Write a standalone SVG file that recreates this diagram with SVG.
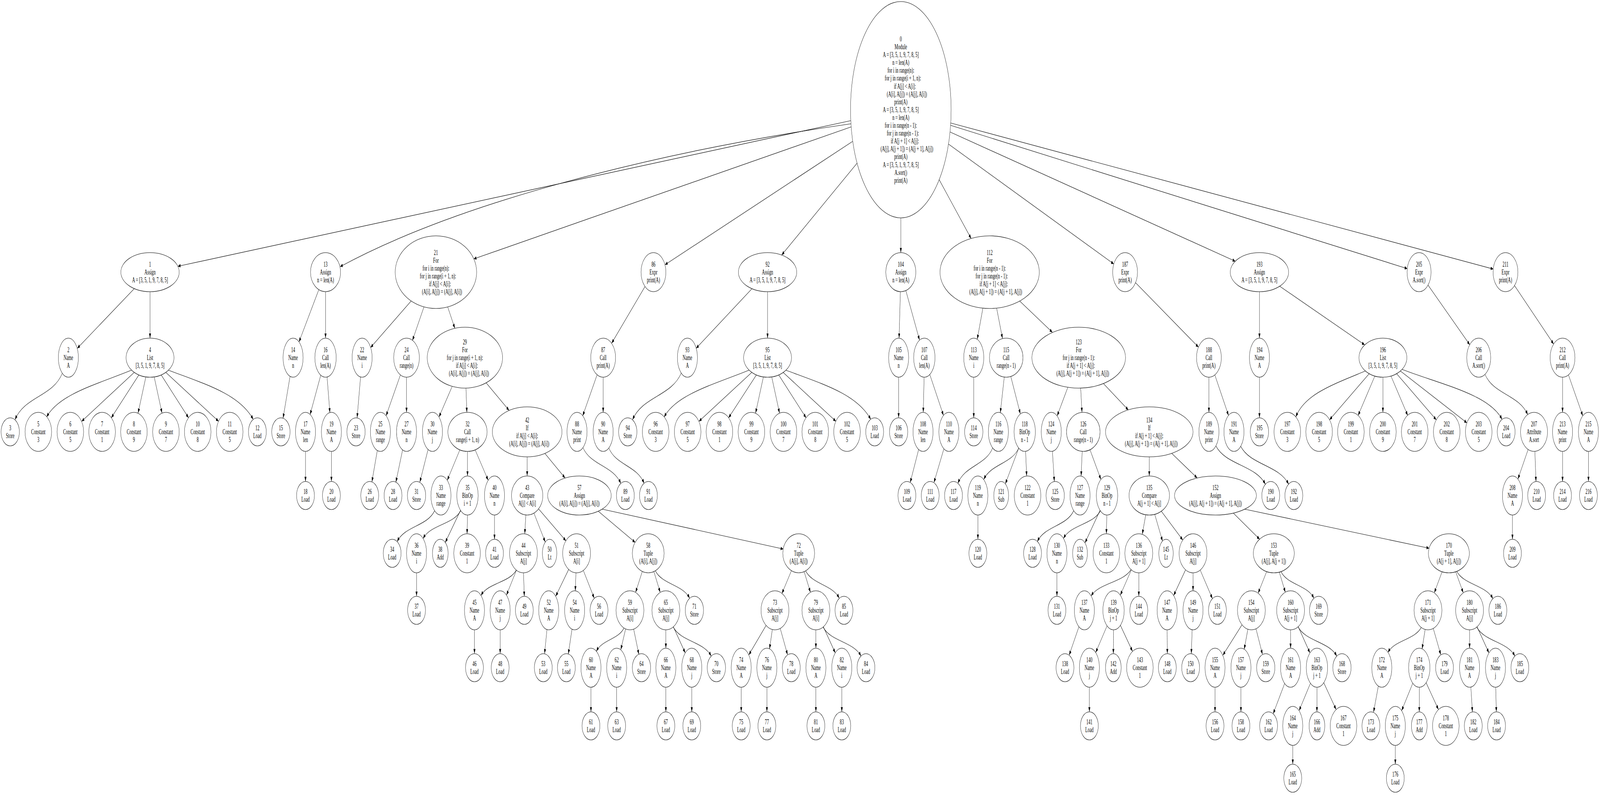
<svg xmlns="http://www.w3.org/2000/svg" width="7348" height="2036" viewBox="0 0 7348 2036" preserveAspectRatio="none" style="width:100vw;height:100vh;display:block">
<style>
.e line,.e path{stroke:#000;stroke-width:1.2;fill:none;marker-end:url(#ah)}
.nd ellipse{fill:#fff;stroke:#000;stroke-width:1.2}
.nd text{font-family:"Liberation Serif","Times New Roman",serif;font-size:18.5px;text-anchor:middle;fill:#000}
.pre{white-space:pre}
</style>
<defs>
<marker id="ah" markerUnits="userSpaceOnUse" markerWidth="13" markerHeight="10" refX="12" refY="4.5" orient="auto"><path d="M0,0L12,4.5L0,9z" fill="#000"/></marker>
</defs>
<rect width="7348" height="2036" fill="#fff"/>
<g id="edges" class="e">
<line x1="3907" y1="309" x2="817" y2="682"/>
<path d="M3908,317C3000,390 2100,520 1562,683"/>
<line x1="3909" y1="325" x2="2176" y2="663"/>
<line x1="3916" y1="362" x2="3054" y2="678"/>
<line x1="3936" y1="418" x2="3590" y2="653"/>
<line x1="4137" y1="558" x2="4137" y2="647"/>
<line x1="4313" y1="460" x2="4460" y2="611"/>
<line x1="4356" y1="369" x2="5115" y2="676"/>
<line x1="4363" y1="338" x2="5673" y2="669"/>
<line x1="4366" y1="321" x2="6463" y2="688"/>
<line x1="4366" y1="315" x2="6858" y2="689"/>
<line x1="617" y1="739" x2="355" y2="892"/>
<line x1="689" y1="747" x2="689" y2="866"/>
<path d="M286,956C243,1016 112,1015 69,1075"/>
<path d="M604,948C440,985 270,1010 214,1068"/>
<line x1="616" y1="954" x2="375" y2="1079"/>
<line x1="638" y1="960" x2="511" y2="1070"/>
<line x1="670" y1="965" x2="634" y2="1058"/>
<line x1="708" y1="965" x2="744" y2="1058"/>
<line x1="740" y1="960" x2="866" y2="1070"/>
<line x1="762" y1="954" x2="1004" y2="1079"/>
<path d="M773,948C950,985 1100,1010 1163,1074"/>
<line x1="1464" y1="742" x2="1373" y2="876"/>
<line x1="1495" y1="747" x2="1495" y2="866"/>
<line x1="1332" y1="964" x2="1300" y2="1071"/>
<line x1="1473" y1="961" x2="1424" y2="1062"/>
<line x1="1502" y1="965" x2="1515" y2="1057"/>
<line x1="1403" y1="1156" x2="1403" y2="1233"/>
<line x1="1522" y1="1156" x2="1522" y2="1233"/>
<line x1="1888" y1="771" x2="1702" y2="890"/>
<line x1="1947" y1="786" x2="1894" y2="872"/>
<line x1="2056" y1="786" x2="2089" y2="841"/>
<line x1="1656" y1="965" x2="1640" y2="1070"/>
<line x1="1839" y1="960" x2="1773" y2="1065"/>
<line x1="1867" y1="966" x2="1867" y2="1056"/>
<line x1="1733" y1="1153" x2="1708" y2="1234"/>
<line x1="1849" y1="1152" x2="1818" y2="1235"/>
<line x1="2077" y1="989" x2="2016" y2="1068"/>
<line x1="2140" y1="994" x2="2144" y2="1056"/>
<line x1="2232" y1="980" x2="2338" y2="1051"/>
<line x1="1966" y1="1151" x2="1928" y2="1235"/>
<line x1="2112" y1="1152" x2="2054" y2="1230"/>
<line x1="2147" y1="1156" x2="2147" y2="1219"/>
<line x1="2182" y1="1152" x2="2242" y2="1230"/>
<path d="M1996,1308C1962,1348 1858,1347 1824,1387"/>
<path d="M2116,1308C2081,1344 1978,1343 1943,1379"/>
<line x1="2115" y1="1307" x2="2045" y2="1389"/>
<line x1="2147" y1="1319" x2="2145" y2="1367"/>
<line x1="1913" y1="1467" x2="1913" y2="1527"/>
<line x1="2271" y1="1319" x2="2271" y2="1381"/>
<line x1="2421" y1="1170" x2="2421" y2="1219"/>
<line x1="2502" y1="1161" x2="2595" y2="1224"/>
<line x1="2415" y1="1319" x2="2410" y2="1367"/>
<line x1="2452" y1="1314" x2="2504" y2="1388"/>
<line x1="2473" y1="1303" x2="2599" y2="1385"/>
<path d="M2371,1460C2339,1493 2241,1492 2209,1525"/>
<line x1="2372" y1="1460" x2="2326" y2="1524"/>
<line x1="2404" y1="1467" x2="2408" y2="1527"/>
<line x1="2179" y1="1613" x2="2179" y2="1674"/>
<line x1="2297" y1="1613" x2="2297" y2="1674"/>
<line x1="2612" y1="1458" x2="2552" y2="1527"/>
<line x1="2645" y1="1467" x2="2642" y2="1513"/>
<line x1="2679" y1="1461" x2="2729" y2="1532"/>
<line x1="2512" y1="1612" x2="2501" y2="1674"/>
<line x1="2627" y1="1611" x2="2610" y2="1675"/>
<line x1="2747" y1="1309" x2="2917" y2="1389"/>
<line x1="2766" y1="1304" x2="3597" y2="1406"/>
<line x1="2950" y1="1463" x2="2919" y2="1517"/>
<line x1="3003" y1="1464" x2="3032" y2="1517"/>
<path d="M3010,1462C3041,1497 3136,1497 3167,1532"/>
<path d="M2866,1608C2841,1638 2764,1638 2739,1668"/>
<line x1="2873" y1="1611" x2="2851" y2="1664"/>
<line x1="2910" y1="1611" x2="2934" y2="1676"/>
<line x1="2714" y1="1760" x2="2714" y2="1823"/>
<line x1="2832" y1="1760" x2="2832" y2="1823"/>
<line x1="3058" y1="1613" x2="3058" y2="1660"/>
<line x1="3092" y1="1605" x2="3147" y2="1672"/>
<path d="M3092,1606C3127,1643 3231,1643 3266,1680"/>
<line x1="3058" y1="1760" x2="3058" y2="1823"/>
<line x1="3177" y1="1760" x2="3177" y2="1823"/>
<line x1="3635" y1="1461" x2="3591" y2="1520"/>
<line x1="3693" y1="1464" x2="3722" y2="1517"/>
<path d="M3700,1462C3731,1497 3823,1497 3854,1532"/>
<line x1="3518" y1="1602" x2="3439" y2="1677"/>
<line x1="3547" y1="1612" x2="3534" y2="1662"/>
<line x1="3583" y1="1609" x2="3617" y2="1677"/>
<line x1="3404" y1="1760" x2="3404" y2="1823"/>
<line x1="3522" y1="1760" x2="3522" y2="1823"/>
<line x1="3747" y1="1613" x2="3747" y2="1660"/>
<line x1="3781" y1="1605" x2="3836" y2="1672"/>
<path d="M3780,1606C3815,1643 3919,1643 3954,1680"/>
<line x1="3747" y1="1760" x2="3747" y2="1823"/>
<line x1="3866" y1="1760" x2="3866" y2="1823"/>
<line x1="2962" y1="734" x2="2809" y2="879"/>
<line x1="2742" y1="960" x2="2676" y2="1065"/>
<line x1="2770" y1="966" x2="2770" y2="1056"/>
<path d="M2677,1146C2712,1192 2816,1192 2851,1238"/>
<path d="M2796,1147C2828,1192 2926,1192 2958,1238"/>
<line x1="3454" y1="739" x2="3197" y2="892"/>
<line x1="3525" y1="747" x2="3525" y2="866"/>
<path d="M3129,955C3084,1015 2950,1015 2905,1075"/>
<path d="M3440,948C3276,985 3106,1010 3050,1068"/>
<line x1="3452" y1="954" x2="3210" y2="1079"/>
<line x1="3474" y1="960" x2="3346" y2="1070"/>
<line x1="3506" y1="965" x2="3470" y2="1058"/>
<line x1="3544" y1="965" x2="3580" y2="1058"/>
<line x1="3576" y1="960" x2="3702" y2="1070"/>
<line x1="3597" y1="954" x2="3839" y2="1079"/>
<path d="M3609,948C3786,985 3936,1010 3999,1074"/>
<line x1="4135" y1="747" x2="4129" y2="866"/>
<line x1="4160" y1="744" x2="4223" y2="871"/>
<line x1="4127" y1="966" x2="4127" y2="1070"/>
<line x1="4244" y1="966" x2="4240" y2="1056"/>
<line x1="4270" y1="959" x2="4333" y2="1064"/>
<line x1="4219" y1="1151" x2="4180" y2="1236"/>
<line x1="4335" y1="1149" x2="4289" y2="1236"/>
<line x1="4514" y1="789" x2="4488" y2="869"/>
<line x1="4577" y1="789" x2="4604" y2="867"/>
<line x1="4683" y1="771" x2="4833" y2="851"/>
<line x1="4472" y1="966" x2="4472" y2="1070"/>
<line x1="4612" y1="966" x2="4594" y2="1057"/>
<line x1="4642" y1="964" x2="4686" y2="1060"/>
<path d="M4559,1147C4527,1192 4431,1192 4399,1238"/>
<path d="M4679,1147C4647,1188 4550,1188 4518,1228"/>
<line x1="4679" y1="1147" x2="4617" y2="1239"/>
<line x1="4710" y1="1156" x2="4715" y2="1219"/>
<line x1="4491" y1="1319" x2="4491" y2="1381"/>
<line x1="4904" y1="992" x2="4855" y2="1065"/>
<line x1="4963" y1="994" x2="4969" y2="1056"/>
<line x1="5067" y1="982" x2="5182" y2="1050"/>
<line x1="4833" y1="1155" x2="4842" y2="1233"/>
<line x1="4970" y1="1156" x2="4965" y2="1219"/>
<line x1="5006" y1="1152" x2="5056" y2="1228"/>
<path d="M4931,1308C4898,1348 4797,1347 4764,1387"/>
<path d="M5054,1308C5020,1344 4918,1343 4884,1379"/>
<line x1="5052" y1="1307" x2="4983" y2="1390"/>
<line x1="5083" y1="1319" x2="5081" y2="1367"/>
<line x1="4854" y1="1467" x2="4854" y2="1527"/>
<line x1="5278" y1="1170" x2="5278" y2="1219"/>
<line x1="5381" y1="1161" x2="5498" y2="1224"/>
<line x1="5262" y1="1318" x2="5246" y2="1368"/>
<line x1="5303" y1="1317" x2="5339" y2="1386"/>
<line x1="5333" y1="1309" x2="5432" y2="1383"/>
<path d="M5194,1459C5157,1492 5048,1493 5011,1526"/>
<line x1="5196" y1="1459" x2="5145" y2="1524"/>
<line x1="5230" y1="1467" x2="5230" y2="1527"/>
<line x1="4955" y1="1605" x2="4910" y2="1678"/>
<line x1="5084" y1="1603" x2="5032" y2="1671"/>
<line x1="5114" y1="1613" x2="5113" y2="1674"/>
<line x1="5145" y1="1601" x2="5201" y2="1668"/>
<line x1="5003" y1="1760" x2="5003" y2="1823"/>
<line x1="5445" y1="1459" x2="5390" y2="1525"/>
<line x1="5479" y1="1467" x2="5479" y2="1513"/>
<line x1="5512" y1="1460" x2="5568" y2="1533"/>
<line x1="5360" y1="1613" x2="5361" y2="1674"/>
<line x1="5475" y1="1613" x2="5471" y2="1674"/>
<line x1="5664" y1="1314" x2="5785" y2="1381"/>
<line x1="5716" y1="1304" x2="6563" y2="1404"/>
<line x1="5817" y1="1464" x2="5778" y2="1519"/>
<line x1="5875" y1="1465" x2="5903" y2="1517"/>
<path d="M5883,1464C5913,1498 6004,1498 6034,1532"/>
<line x1="5704" y1="1600" x2="5616" y2="1678"/>
<line x1="5731" y1="1611" x2="5714" y2="1663"/>
<line x1="5768" y1="1610" x2="5798" y2="1676"/>
<line x1="5580" y1="1760" x2="5580" y2="1823"/>
<line x1="5699" y1="1760" x2="5699" y2="1823"/>
<line x1="5927" y1="1613" x2="5927" y2="1660"/>
<line x1="5962" y1="1605" x2="6016" y2="1672"/>
<path d="M5961,1605C5997,1643 6103,1643 6139,1680"/>
<line x1="5900" y1="1750" x2="5847" y2="1828"/>
<line x1="6018" y1="1750" x2="5966" y2="1820"/>
<line x1="6048" y1="1760" x2="6048" y2="1823"/>
<line x1="6079" y1="1748" x2="6136" y2="1817"/>
<line x1="5937" y1="1909" x2="5937" y2="1957"/>
<line x1="6623" y1="1464" x2="6587" y2="1518"/>
<line x1="6685" y1="1464" x2="6720" y2="1518"/>
<path d="M6690,1463C6723,1498 6823,1498 6856,1533"/>
<path d="M6527,1607C6496,1639 6405,1639 6374,1671"/>
<line x1="6545" y1="1612" x2="6531" y2="1662"/>
<line x1="6582" y1="1609" x2="6617" y2="1677"/>
<line x1="6330" y1="1757" x2="6308" y2="1824"/>
<line x1="6488" y1="1750" x2="6437" y2="1820"/>
<line x1="6518" y1="1760" x2="6518" y2="1823"/>
<line x1="6549" y1="1748" x2="6606" y2="1817"/>
<line x1="6408" y1="1909" x2="6408" y2="1957"/>
<line x1="6749" y1="1613" x2="6749" y2="1660"/>
<line x1="6783" y1="1605" x2="6838" y2="1672"/>
<path d="M6782,1606C6817,1643 6922,1643 6957,1680"/>
<line x1="6755" y1="1760" x2="6762" y2="1823"/>
<line x1="6869" y1="1760" x2="6872" y2="1823"/>
<line x1="5215" y1="724" x2="5504" y2="889"/>
<line x1="5552" y1="966" x2="5552" y2="1056"/>
<line x1="5579" y1="960" x2="5642" y2="1064"/>
<path d="M5584,1142C5629,1191 5766,1191 5811,1240"/>
<path d="M5698,1143C5742,1191 5874,1191 5918,1240"/>
<line x1="5784" y1="747" x2="5784" y2="866"/>
<line x1="5877" y1="733" x2="6267" y2="883"/>
<line x1="5784" y1="966" x2="5784" y2="1070"/>
<path d="M6271,950C6120,985 5990,1010 5951,1068"/>
<line x1="6288" y1="957" x2="6106" y2="1075"/>
<line x1="6314" y1="963" x2="6237" y2="1064"/>
<line x1="6351" y1="966" x2="6351" y2="1056"/>
<line x1="6388" y1="963" x2="6465" y2="1064"/>
<line x1="6414" y1="957" x2="6596" y2="1075"/>
<line x1="6431" y1="950" x2="6737" y2="1083"/>
<path d="M6439,946C6620,985 6840,1010 6898,1074"/>
<line x1="6558" y1="730" x2="6750" y2="883"/>
<path d="M6820,959C6859,1010 6977,1011 7016,1062"/>
<line x1="7018" y1="1151" x2="6971" y2="1227"/>
<line x1="7049" y1="1156" x2="7054" y2="1233"/>
<line x1="6946" y1="1319" x2="6946" y2="1381"/>
<line x1="6955" y1="731" x2="7135" y2="881"/>
<line x1="7176" y1="966" x2="7176" y2="1056"/>
<line x1="7203" y1="960" x2="7269" y2="1065"/>
<line x1="7176" y1="1156" x2="7176" y2="1233"/>
<line x1="7295" y1="1156" x2="7295" y2="1233"/>
</g>
<g class="nd">
<g id="n0"><ellipse cx="4137" cy="281" rx="231" ry="277"/><text class="pre" xml:space="preserve" y="106"><tspan x="4137">0</tspan><tspan x="4137" dy="20.1">Module</tspan><tspan x="4137" dy="20.1">A = [3, 5, 1, 9, 7, 8, 5]</tspan><tspan x="4137" dy="20.1">n = len(A)</tspan><tspan x="4137" dy="20.1">for i in range(n):</tspan><tspan x="4137" dy="20.1">    for j in range(i + 1, n):</tspan><tspan x="4137" dy="20.1">        if A[j] &lt; A[i]:</tspan><tspan x="4137" dy="20.1">            (A[i], A[j]) = (A[j], A[i])</tspan><tspan x="4137" dy="20.1">print(A)</tspan><tspan x="4137" dy="20.1">A = [3, 5, 1, 9, 7, 8, 5]</tspan><tspan x="4137" dy="20.1">n = len(A)</tspan><tspan x="4137" dy="20.1">for i in range(n - 1):</tspan><tspan x="4137" dy="20.1">    for j in range(n - 1):</tspan><tspan x="4137" dy="20.1">        if A[j + 1] &lt; A[j]:</tspan><tspan x="4137" dy="20.1">            (A[j], A[j + 1]) = (A[j + 1], A[j])</tspan><tspan x="4137" dy="20.1">print(A)</tspan><tspan x="4137" dy="20.1">A = [3, 5, 1, 9, 7, 8, 5]</tspan><tspan x="4137" dy="20.1">A.sort()</tspan><tspan x="4137" dy="20.1">print(A)</tspan></text></g>
<g id="n1"><ellipse cx="689" cy="697" rx="134" ry="50"/><text y="683"><tspan x="689">1</tspan><tspan x="689" dy="20.1">Assign</tspan><tspan x="689" dy="20.1">A = [3, 5, 1, 9, 7, 8, 5]</tspan></text></g>
<g id="n2"><ellipse cx="314" cy="916" rx="46" ry="50"/><text y="902"><tspan x="314">2</tspan><tspan x="314" dy="20.1">Name</tspan><tspan x="314" dy="20.1">A</tspan></text></g>
<g id="n3"><ellipse cx="47" cy="1106" rx="42" ry="36"/><text y="1102"><tspan x="47">3</tspan><tspan x="47" dy="20.1">Store</tspan></text></g>
<g id="n4"><ellipse cx="689" cy="916" rx="110" ry="50"/><text y="902"><tspan x="689">4</tspan><tspan x="689" dy="20.1">List</tspan><tspan x="689" dy="20.1">[3, 5, 1, 9, 7, 8, 5]</tspan></text></g>
<g id="n5"><ellipse cx="176" cy="1106" rx="61" ry="50"/><text y="1092"><tspan x="176">5</tspan><tspan x="176" dy="20.1">Constant</tspan><tspan x="176" dy="20.1">3</tspan></text></g>
<g id="n6"><ellipse cx="323" cy="1106" rx="61" ry="50"/><text y="1092"><tspan x="323">6</tspan><tspan x="323" dy="20.1">Constant</tspan><tspan x="323" dy="20.1">5</tspan></text></g>
<g id="n7"><ellipse cx="469" cy="1106" rx="61" ry="50"/><text y="1092"><tspan x="469">7</tspan><tspan x="469" dy="20.1">Constant</tspan><tspan x="469" dy="20.1">1</tspan></text></g>
<g id="n8"><ellipse cx="615" cy="1106" rx="61" ry="50"/><text y="1092"><tspan x="615">8</tspan><tspan x="615" dy="20.1">Constant</tspan><tspan x="615" dy="20.1">9</tspan></text></g>
<g id="n9"><ellipse cx="762" cy="1106" rx="61" ry="50"/><text y="1092"><tspan x="762">9</tspan><tspan x="762" dy="20.1">Constant</tspan><tspan x="762" dy="20.1">7</tspan></text></g>
<g id="n10"><ellipse cx="908" cy="1106" rx="61" ry="50"/><text y="1092"><tspan x="908">10</tspan><tspan x="908" dy="20.1">Constant</tspan><tspan x="908" dy="20.1">8</tspan></text></g>
<g id="n11"><ellipse cx="1055" cy="1106" rx="61" ry="50"/><text y="1092"><tspan x="1055">11</tspan><tspan x="1055" dy="20.1">Constant</tspan><tspan x="1055" dy="20.1">5</tspan></text></g>
<g id="n12"><ellipse cx="1182" cy="1106" rx="41" ry="36"/><text y="1102"><tspan x="1182">12</tspan><tspan x="1182" dy="20.1">Load</tspan></text></g>
<g id="n13"><ellipse cx="1495" cy="697" rx="69" ry="50"/><text y="683"><tspan x="1495">13</tspan><tspan x="1495" dy="20.1">Assign</tspan><tspan x="1495" dy="20.1">n = len(A)</tspan></text></g>
<g id="n14"><ellipse cx="1346" cy="916" rx="46" ry="50"/><text y="902"><tspan x="1346">14</tspan><tspan x="1346" dy="20.1">Name</tspan><tspan x="1346" dy="20.1">n</tspan></text></g>
<g id="n15"><ellipse cx="1290" cy="1106" rx="42" ry="36"/><text y="1102"><tspan x="1290">15</tspan><tspan x="1290" dy="20.1">Store</tspan></text></g>
<g id="n16"><ellipse cx="1495" cy="916" rx="49" ry="50"/><text y="902"><tspan x="1495">16</tspan><tspan x="1495" dy="20.1">Call</tspan><tspan x="1495" dy="20.1">len(A)</tspan></text></g>
<g id="n17"><ellipse cx="1403" cy="1106" rx="46" ry="50"/><text y="1092"><tspan x="1403">17</tspan><tspan x="1403" dy="20.1">Name</tspan><tspan x="1403" dy="20.1">len</tspan></text></g>
<g id="n18"><ellipse cx="1403" cy="1269" rx="41" ry="36"/><text y="1265"><tspan x="1403">18</tspan><tspan x="1403" dy="20.1">Load</tspan></text></g>
<g id="n19"><ellipse cx="1522" cy="1106" rx="46" ry="50"/><text y="1092"><tspan x="1522">19</tspan><tspan x="1522" dy="20.1">Name</tspan><tspan x="1522" dy="20.1">A</tspan></text></g>
<g id="n20"><ellipse cx="1522" cy="1269" rx="41" ry="36"/><text y="1265"><tspan x="1522">20</tspan><tspan x="1522" dy="20.1">Load</tspan></text></g>
<g id="n21"><ellipse cx="2002" cy="697" rx="187" ry="93"/><text class="pre" xml:space="preserve" y="653"><tspan x="2002">21</tspan><tspan x="2002" dy="20.1">For</tspan><tspan x="2002" dy="20.1">for i in range(n):</tspan><tspan x="2002" dy="20.1">    for j in range(i + 1, n):</tspan><tspan x="2002" dy="20.1">        if A[j] &lt; A[i]:</tspan><tspan x="2002" dy="20.1">            (A[i], A[j]) = (A[j], A[i])</tspan></text></g>
<g id="n22"><ellipse cx="1663" cy="916" rx="46" ry="50"/><text y="902"><tspan x="1663">22</tspan><tspan x="1663" dy="20.1">Name</tspan><tspan x="1663" dy="20.1">i</tspan></text></g>
<g id="n23"><ellipse cx="1635" cy="1106" rx="42" ry="36"/><text y="1102"><tspan x="1635">23</tspan><tspan x="1635" dy="20.1">Store</tspan></text></g>
<g id="n24"><ellipse cx="1867" cy="916" rx="59" ry="50"/><text y="902"><tspan x="1867">24</tspan><tspan x="1867" dy="20.1">Call</tspan><tspan x="1867" dy="20.1">range(n)</tspan></text></g>
<g id="n25"><ellipse cx="1747" cy="1106" rx="46" ry="50"/><text y="1092"><tspan x="1747">25</tspan><tspan x="1747" dy="20.1">Name</tspan><tspan x="1747" dy="20.1">range</tspan></text></g>
<g id="n26"><ellipse cx="1698" cy="1269" rx="41" ry="36"/><text y="1265"><tspan x="1698">26</tspan><tspan x="1698" dy="20.1">Load</tspan></text></g>
<g id="n27"><ellipse cx="1867" cy="1106" rx="46" ry="50"/><text y="1092"><tspan x="1867">27</tspan><tspan x="1867" dy="20.1">Name</tspan><tspan x="1867" dy="20.1">n</tspan></text></g>
<g id="n28"><ellipse cx="1805" cy="1269" rx="41" ry="36"/><text y="1265"><tspan x="1805">28</tspan><tspan x="1805" dy="20.1">Load</tspan></text></g>
<g id="n29"><ellipse cx="2135" cy="916" rx="173" ry="78"/><text class="pre" xml:space="preserve" y="882"><tspan x="2135">29</tspan><tspan x="2135" dy="20.1">For</tspan><tspan x="2135" dy="20.1">for j in range(i + 1, n):</tspan><tspan x="2135" dy="20.1">    if A[j] &lt; A[i]:</tspan><tspan x="2135" dy="20.1">        (A[i], A[j]) = (A[j], A[i])</tspan></text></g>
<g id="n30"><ellipse cx="1986" cy="1106" rx="46" ry="50"/><text y="1092"><tspan x="1986">30</tspan><tspan x="1986" dy="20.1">Name</tspan><tspan x="1986" dy="20.1">j</tspan></text></g>
<g id="n31"><ellipse cx="1913" cy="1269" rx="42" ry="36"/><text y="1265"><tspan x="1913">31</tspan><tspan x="1913" dy="20.1">Store</tspan></text></g>
<g id="n32"><ellipse cx="2147" cy="1106" rx="90" ry="50"/><text y="1092"><tspan x="2147">32</tspan><tspan x="2147" dy="20.1">Call</tspan><tspan x="2147" dy="20.1">range(i + 1, n)</tspan></text></g>
<g id="n33"><ellipse cx="2025" cy="1269" rx="46" ry="50"/><text y="1255"><tspan x="2025">33</tspan><tspan x="2025" dy="20.1">Name</tspan><tspan x="2025" dy="20.1">range</tspan></text></g>
<g id="n34"><ellipse cx="1801" cy="1417" rx="41" ry="36"/><text y="1413"><tspan x="1801">34</tspan><tspan x="1801" dy="20.1">Load</tspan></text></g>
<g id="n35"><ellipse cx="2147" cy="1269" rx="49" ry="50"/><text y="1255"><tspan x="2147">35</tspan><tspan x="2147" dy="20.1">BinOp</tspan><tspan x="2147" dy="20.1">i + 1</tspan></text></g>
<g id="n36"><ellipse cx="1913" cy="1417" rx="46" ry="50"/><text y="1403"><tspan x="1913">36</tspan><tspan x="1913" dy="20.1">Name</tspan><tspan x="1913" dy="20.1">i</tspan></text></g>
<g id="n37"><ellipse cx="1913" cy="1563" rx="41" ry="36"/><text y="1559"><tspan x="1913">37</tspan><tspan x="1913" dy="20.1">Load</tspan></text></g>
<g id="n38"><ellipse cx="2022" cy="1417" rx="36" ry="36"/><text y="1413"><tspan x="2022">38</tspan><tspan x="2022" dy="20.1">Add</tspan></text></g>
<g id="n39"><ellipse cx="2145" cy="1417" rx="61" ry="50"/><text y="1403"><tspan x="2145">39</tspan><tspan x="2145" dy="20.1">Constant</tspan><tspan x="2145" dy="20.1">1</tspan></text></g>
<g id="n40"><ellipse cx="2271" cy="1269" rx="46" ry="50"/><text y="1255"><tspan x="2271">40</tspan><tspan x="2271" dy="20.1">Name</tspan><tspan x="2271" dy="20.1">n</tspan></text></g>
<g id="n41"><ellipse cx="2271" cy="1417" rx="41" ry="36"/><text y="1413"><tspan x="2271">41</tspan><tspan x="2271" dy="20.1">Load</tspan></text></g>
<g id="n42"><ellipse cx="2421" cy="1106" rx="160" ry="64"/><text class="pre" xml:space="preserve" y="1082"><tspan x="2421">42</tspan><tspan x="2421" dy="20.1">If</tspan><tspan x="2421" dy="20.1">if A[j] &lt; A[i]:</tspan><tspan x="2421" dy="20.1">    (A[i], A[j]) = (A[j], A[i])</tspan></text></g>
<g id="n43"><ellipse cx="2421" cy="1269" rx="72" ry="50"/><text y="1255"><tspan x="2421">43</tspan><tspan x="2421" dy="20.1">Compare</tspan><tspan x="2421" dy="20.1">A[j] &lt; A[i]</tspan></text></g>
<g id="n44"><ellipse cx="2404" cy="1417" rx="64" ry="50"/><text y="1403"><tspan x="2404">44</tspan><tspan x="2404" dy="20.1">Subscript</tspan><tspan x="2404" dy="20.1">A[j]</tspan></text></g>
<g id="n45"><ellipse cx="2179" cy="1563" rx="46" ry="50"/><text y="1549"><tspan x="2179">45</tspan><tspan x="2179" dy="20.1">Name</tspan><tspan x="2179" dy="20.1">A</tspan></text></g>
<g id="n46"><ellipse cx="2179" cy="1710" rx="41" ry="36"/><text y="1706"><tspan x="2179">46</tspan><tspan x="2179" dy="20.1">Load</tspan></text></g>
<g id="n47"><ellipse cx="2297" cy="1563" rx="46" ry="50"/><text y="1549"><tspan x="2297">47</tspan><tspan x="2297" dy="20.1">Name</tspan><tspan x="2297" dy="20.1">j</tspan></text></g>
<g id="n48"><ellipse cx="2297" cy="1710" rx="41" ry="36"/><text y="1706"><tspan x="2297">48</tspan><tspan x="2297" dy="20.1">Load</tspan></text></g>
<g id="n49"><ellipse cx="2408" cy="1563" rx="41" ry="36"/><text y="1559"><tspan x="2408">49</tspan><tspan x="2408" dy="20.1">Load</tspan></text></g>
<g id="n50"><ellipse cx="2524" cy="1417" rx="33" ry="36"/><text y="1413"><tspan x="2524">50</tspan><tspan x="2524" dy="20.1">Lt</tspan></text></g>
<g id="n51"><ellipse cx="2648" cy="1417" rx="64" ry="50"/><text y="1403"><tspan x="2648">51</tspan><tspan x="2648" dy="20.1">Subscript</tspan><tspan x="2648" dy="20.1">A[i]</tspan></text></g>
<g id="n52"><ellipse cx="2520" cy="1563" rx="46" ry="50"/><text y="1549"><tspan x="2520">52</tspan><tspan x="2520" dy="20.1">Name</tspan><tspan x="2520" dy="20.1">A</tspan></text></g>
<g id="n53"><ellipse cx="2495" cy="1710" rx="41" ry="36"/><text y="1706"><tspan x="2495">53</tspan><tspan x="2495" dy="20.1">Load</tspan></text></g>
<g id="n54"><ellipse cx="2639" cy="1563" rx="46" ry="50"/><text y="1549"><tspan x="2639">54</tspan><tspan x="2639" dy="20.1">Name</tspan><tspan x="2639" dy="20.1">i</tspan></text></g>
<g id="n55"><ellipse cx="2601" cy="1710" rx="41" ry="36"/><text y="1706"><tspan x="2601">55</tspan><tspan x="2601" dy="20.1">Load</tspan></text></g>
<g id="n56"><ellipse cx="2751" cy="1563" rx="41" ry="36"/><text y="1559"><tspan x="2751">56</tspan><tspan x="2751" dy="20.1">Load</tspan></text></g>
<g id="n57"><ellipse cx="2661" cy="1269" rx="146" ry="50"/><text y="1255"><tspan x="2661">57</tspan><tspan x="2661" dy="20.1">Assign</tspan><tspan x="2661" dy="20.1">(A[i], A[j]) = (A[j], A[i])</tspan></text></g>
<g id="n58"><ellipse cx="2977" cy="1417" rx="73" ry="50"/><text y="1403"><tspan x="2977">58</tspan><tspan x="2977" dy="20.1">Tuple</tspan><tspan x="2977" dy="20.1">(A[i], A[j])</tspan></text></g>
<g id="n59"><ellipse cx="2893" cy="1563" rx="64" ry="50"/><text y="1549"><tspan x="2893">59</tspan><tspan x="2893" dy="20.1">Subscript</tspan><tspan x="2893" dy="20.1">A[i]</tspan></text></g>
<g id="n60"><ellipse cx="2714" cy="1710" rx="46" ry="50"/><text y="1696"><tspan x="2714">60</tspan><tspan x="2714" dy="20.1">Name</tspan><tspan x="2714" dy="20.1">A</tspan></text></g>
<g id="n61"><ellipse cx="2714" cy="1859" rx="41" ry="36"/><text y="1855"><tspan x="2714">61</tspan><tspan x="2714" dy="20.1">Load</tspan></text></g>
<g id="n62"><ellipse cx="2832" cy="1710" rx="46" ry="50"/><text y="1696"><tspan x="2832">62</tspan><tspan x="2832" dy="20.1">Name</tspan><tspan x="2832" dy="20.1">i</tspan></text></g>
<g id="n63"><ellipse cx="2832" cy="1859" rx="41" ry="36"/><text y="1855"><tspan x="2832">63</tspan><tspan x="2832" dy="20.1">Load</tspan></text></g>
<g id="n64"><ellipse cx="2946" cy="1710" rx="42" ry="36"/><text y="1706"><tspan x="2946">64</tspan><tspan x="2946" dy="20.1">Store</tspan></text></g>
<g id="n65"><ellipse cx="3058" cy="1563" rx="64" ry="50"/><text y="1549"><tspan x="3058">65</tspan><tspan x="3058" dy="20.1">Subscript</tspan><tspan x="3058" dy="20.1">A[j]</tspan></text></g>
<g id="n66"><ellipse cx="3058" cy="1710" rx="46" ry="50"/><text y="1696"><tspan x="3058">66</tspan><tspan x="3058" dy="20.1">Name</tspan><tspan x="3058" dy="20.1">A</tspan></text></g>
<g id="n67"><ellipse cx="3058" cy="1859" rx="41" ry="36"/><text y="1855"><tspan x="3058">67</tspan><tspan x="3058" dy="20.1">Load</tspan></text></g>
<g id="n68"><ellipse cx="3177" cy="1710" rx="46" ry="50"/><text y="1696"><tspan x="3177">68</tspan><tspan x="3177" dy="20.1">Name</tspan><tspan x="3177" dy="20.1">j</tspan></text></g>
<g id="n69"><ellipse cx="3177" cy="1859" rx="41" ry="36"/><text y="1855"><tspan x="3177">69</tspan><tspan x="3177" dy="20.1">Load</tspan></text></g>
<g id="n70"><ellipse cx="3290" cy="1710" rx="42" ry="36"/><text y="1706"><tspan x="3290">70</tspan><tspan x="3290" dy="20.1">Store</tspan></text></g>
<g id="n71"><ellipse cx="3189" cy="1563" rx="42" ry="36"/><text y="1559"><tspan x="3189">71</tspan><tspan x="3189" dy="20.1">Store</tspan></text></g>
<g id="n72"><ellipse cx="3668" cy="1417" rx="73" ry="50"/><text y="1403"><tspan x="3668">72</tspan><tspan x="3668" dy="20.1">Tuple</tspan><tspan x="3668" dy="20.1">(A[j], A[i])</tspan></text></g>
<g id="n73"><ellipse cx="3559" cy="1563" rx="64" ry="50"/><text y="1549"><tspan x="3559">73</tspan><tspan x="3559" dy="20.1">Subscript</tspan><tspan x="3559" dy="20.1">A[j]</tspan></text></g>
<g id="n74"><ellipse cx="3404" cy="1710" rx="46" ry="50"/><text y="1696"><tspan x="3404">74</tspan><tspan x="3404" dy="20.1">Name</tspan><tspan x="3404" dy="20.1">A</tspan></text></g>
<g id="n75"><ellipse cx="3404" cy="1859" rx="41" ry="36"/><text y="1855"><tspan x="3404">75</tspan><tspan x="3404" dy="20.1">Load</tspan></text></g>
<g id="n76"><ellipse cx="3522" cy="1710" rx="46" ry="50"/><text y="1696"><tspan x="3522">76</tspan><tspan x="3522" dy="20.1">Name</tspan><tspan x="3522" dy="20.1">j</tspan></text></g>
<g id="n77"><ellipse cx="3522" cy="1859" rx="41" ry="36"/><text y="1855"><tspan x="3522">77</tspan><tspan x="3522" dy="20.1">Load</tspan></text></g>
<g id="n78"><ellipse cx="3634" cy="1710" rx="41" ry="36"/><text y="1706"><tspan x="3634">78</tspan><tspan x="3634" dy="20.1">Load</tspan></text></g>
<g id="n79"><ellipse cx="3747" cy="1563" rx="64" ry="50"/><text y="1549"><tspan x="3747">79</tspan><tspan x="3747" dy="20.1">Subscript</tspan><tspan x="3747" dy="20.1">A[i]</tspan></text></g>
<g id="n80"><ellipse cx="3747" cy="1710" rx="46" ry="50"/><text y="1696"><tspan x="3747">80</tspan><tspan x="3747" dy="20.1">Name</tspan><tspan x="3747" dy="20.1">A</tspan></text></g>
<g id="n81"><ellipse cx="3747" cy="1859" rx="41" ry="36"/><text y="1855"><tspan x="3747">81</tspan><tspan x="3747" dy="20.1">Load</tspan></text></g>
<g id="n82"><ellipse cx="3866" cy="1710" rx="46" ry="50"/><text y="1696"><tspan x="3866">82</tspan><tspan x="3866" dy="20.1">Name</tspan><tspan x="3866" dy="20.1">i</tspan></text></g>
<g id="n83"><ellipse cx="3866" cy="1859" rx="41" ry="36"/><text y="1855"><tspan x="3866">83</tspan><tspan x="3866" dy="20.1">Load</tspan></text></g>
<g id="n84"><ellipse cx="3977" cy="1710" rx="41" ry="36"/><text y="1706"><tspan x="3977">84</tspan><tspan x="3977" dy="20.1">Load</tspan></text></g>
<g id="n85"><ellipse cx="3876" cy="1563" rx="41" ry="36"/><text y="1559"><tspan x="3876">85</tspan><tspan x="3876" dy="20.1">Load</tspan></text></g>
<g id="n86"><ellipse cx="3001" cy="697" rx="57" ry="50"/><text y="683"><tspan x="3001">86</tspan><tspan x="3001" dy="20.1">Expr</tspan><tspan x="3001" dy="20.1">print(A)</tspan></text></g>
<g id="n87"><ellipse cx="2770" cy="916" rx="57" ry="50"/><text y="902"><tspan x="2770">87</tspan><tspan x="2770" dy="20.1">Call</tspan><tspan x="2770" dy="20.1">print(A)</tspan></text></g>
<g id="n88"><ellipse cx="2650" cy="1106" rx="46" ry="50"/><text y="1092"><tspan x="2650">88</tspan><tspan x="2650" dy="20.1">Name</tspan><tspan x="2650" dy="20.1">print</tspan></text></g>
<g id="n89"><ellipse cx="2872" cy="1269" rx="41" ry="36"/><text y="1265"><tspan x="2872">89</tspan><tspan x="2872" dy="20.1">Load</tspan></text></g>
<g id="n90"><ellipse cx="2770" cy="1106" rx="46" ry="50"/><text y="1092"><tspan x="2770">90</tspan><tspan x="2770" dy="20.1">Name</tspan><tspan x="2770" dy="20.1">A</tspan></text></g>
<g id="n91"><ellipse cx="2978" cy="1269" rx="41" ry="36"/><text y="1265"><tspan x="2978">91</tspan><tspan x="2978" dy="20.1">Load</tspan></text></g>
<g id="n92"><ellipse cx="3525" cy="697" rx="134" ry="50"/><text y="683"><tspan x="3525">92</tspan><tspan x="3525" dy="20.1">Assign</tspan><tspan x="3525" dy="20.1">A = [3, 5, 1, 9, 7, 8, 5]</tspan></text></g>
<g id="n93"><ellipse cx="3157" cy="916" rx="46" ry="50"/><text y="902"><tspan x="3157">93</tspan><tspan x="3157" dy="20.1">Name</tspan><tspan x="3157" dy="20.1">A</tspan></text></g>
<g id="n94"><ellipse cx="2883" cy="1106" rx="42" ry="36"/><text y="1102"><tspan x="2883">94</tspan><tspan x="2883" dy="20.1">Store</tspan></text></g>
<g id="n95"><ellipse cx="3525" cy="916" rx="110" ry="50"/><text y="902"><tspan x="3525">95</tspan><tspan x="3525" dy="20.1">List</tspan><tspan x="3525" dy="20.1">[3, 5, 1, 9, 7, 8, 5]</tspan></text></g>
<g id="n96"><ellipse cx="3011" cy="1106" rx="61" ry="50"/><text y="1092"><tspan x="3011">96</tspan><tspan x="3011" dy="20.1">Constant</tspan><tspan x="3011" dy="20.1">3</tspan></text></g>
<g id="n97"><ellipse cx="3158" cy="1106" rx="61" ry="50"/><text y="1092"><tspan x="3158">97</tspan><tspan x="3158" dy="20.1">Constant</tspan><tspan x="3158" dy="20.1">5</tspan></text></g>
<g id="n98"><ellipse cx="3304" cy="1106" rx="61" ry="50"/><text y="1092"><tspan x="3304">98</tspan><tspan x="3304" dy="20.1">Constant</tspan><tspan x="3304" dy="20.1">1</tspan></text></g>
<g id="n99"><ellipse cx="3451" cy="1106" rx="61" ry="50"/><text y="1092"><tspan x="3451">99</tspan><tspan x="3451" dy="20.1">Constant</tspan><tspan x="3451" dy="20.1">9</tspan></text></g>
<g id="n100"><ellipse cx="3598" cy="1106" rx="61" ry="50"/><text y="1092"><tspan x="3598">100</tspan><tspan x="3598" dy="20.1">Constant</tspan><tspan x="3598" dy="20.1">7</tspan></text></g>
<g id="n101"><ellipse cx="3744" cy="1106" rx="61" ry="50"/><text y="1092"><tspan x="3744">101</tspan><tspan x="3744" dy="20.1">Constant</tspan><tspan x="3744" dy="20.1">8</tspan></text></g>
<g id="n102"><ellipse cx="3890" cy="1106" rx="61" ry="50"/><text y="1092"><tspan x="3890">102</tspan><tspan x="3890" dy="20.1">Constant</tspan><tspan x="3890" dy="20.1">5</tspan></text></g>
<g id="n103"><ellipse cx="4017" cy="1106" rx="41" ry="36"/><text y="1102"><tspan x="4017">103</tspan><tspan x="4017" dy="20.1">Load</tspan></text></g>
<g id="n104"><ellipse cx="4137" cy="697" rx="69" ry="50"/><text y="683"><tspan x="4137">104</tspan><tspan x="4137" dy="20.1">Assign</tspan><tspan x="4137" dy="20.1">n = len(A)</tspan></text></g>
<g id="n105"><ellipse cx="4127" cy="916" rx="46" ry="50"/><text y="902"><tspan x="4127">105</tspan><tspan x="4127" dy="20.1">Name</tspan><tspan x="4127" dy="20.1">n</tspan></text></g>
<g id="n106"><ellipse cx="4127" cy="1106" rx="42" ry="36"/><text y="1102"><tspan x="4127">106</tspan><tspan x="4127" dy="20.1">Store</tspan></text></g>
<g id="n107"><ellipse cx="4245" cy="916" rx="49" ry="50"/><text y="902"><tspan x="4245">107</tspan><tspan x="4245" dy="20.1">Call</tspan><tspan x="4245" dy="20.1">len(A)</tspan></text></g>
<g id="n108"><ellipse cx="4239" cy="1106" rx="46" ry="50"/><text y="1092"><tspan x="4239">108</tspan><tspan x="4239" dy="20.1">Name</tspan><tspan x="4239" dy="20.1">len</tspan></text></g>
<g id="n109"><ellipse cx="4165" cy="1269" rx="41" ry="36"/><text y="1265"><tspan x="4165">109</tspan><tspan x="4165" dy="20.1">Load</tspan></text></g>
<g id="n110"><ellipse cx="4358" cy="1106" rx="46" ry="50"/><text y="1092"><tspan x="4358">110</tspan><tspan x="4358" dy="20.1">Name</tspan><tspan x="4358" dy="20.1">A</tspan></text></g>
<g id="n111"><ellipse cx="4272" cy="1269" rx="41" ry="36"/><text y="1265"><tspan x="4272">111</tspan><tspan x="4272" dy="20.1">Load</tspan></text></g>
<g id="n112"><ellipse cx="4545" cy="697" rx="228" ry="93"/><text class="pre" xml:space="preserve" y="653"><tspan x="4545">112</tspan><tspan x="4545" dy="20.1">For</tspan><tspan x="4545" dy="20.1">for i in range(n - 1):</tspan><tspan x="4545" dy="20.1">    for j in range(n - 1):</tspan><tspan x="4545" dy="20.1">        if A[j + 1] &lt; A[j]:</tspan><tspan x="4545" dy="20.1">            (A[j], A[j + 1]) = (A[j + 1], A[j])</tspan></text></g>
<g id="n113"><ellipse cx="4472" cy="916" rx="46" ry="50"/><text y="902"><tspan x="4472">113</tspan><tspan x="4472" dy="20.1">Name</tspan><tspan x="4472" dy="20.1">i</tspan></text></g>
<g id="n114"><ellipse cx="4472" cy="1106" rx="42" ry="36"/><text y="1102"><tspan x="4472">114</tspan><tspan x="4472" dy="20.1">Store</tspan></text></g>
<g id="n115"><ellipse cx="4621" cy="916" rx="77" ry="50"/><text y="902"><tspan x="4621">115</tspan><tspan x="4621" dy="20.1">Call</tspan><tspan x="4621" dy="20.1">range(n - 1)</tspan></text></g>
<g id="n116"><ellipse cx="4585" cy="1106" rx="46" ry="50"/><text y="1092"><tspan x="4585">116</tspan><tspan x="4585" dy="20.1">Name</tspan><tspan x="4585" dy="20.1">range</tspan></text></g>
<g id="n117"><ellipse cx="4379" cy="1269" rx="41" ry="36"/><text y="1265"><tspan x="4379">117</tspan><tspan x="4379" dy="20.1">Load</tspan></text></g>
<g id="n118"><ellipse cx="4706" cy="1106" rx="49" ry="50"/><text y="1092"><tspan x="4706">118</tspan><tspan x="4706" dy="20.1">BinOp</tspan><tspan x="4706" dy="20.1">n - 1</tspan></text></g>
<g id="n119"><ellipse cx="4491" cy="1269" rx="46" ry="50"/><text y="1255"><tspan x="4491">119</tspan><tspan x="4491" dy="20.1">Name</tspan><tspan x="4491" dy="20.1">n</tspan></text></g>
<g id="n120"><ellipse cx="4491" cy="1417" rx="41" ry="36"/><text y="1413"><tspan x="4491">120</tspan><tspan x="4491" dy="20.1">Load</tspan></text></g>
<g id="n121"><ellipse cx="4598" cy="1269" rx="34" ry="36"/><text y="1265"><tspan x="4598">121</tspan><tspan x="4598" dy="20.1">Sub</tspan></text></g>
<g id="n122"><ellipse cx="4719" cy="1269" rx="61" ry="50"/><text y="1255"><tspan x="4719">122</tspan><tspan x="4719" dy="20.1">Constant</tspan><tspan x="4719" dy="20.1">1</tspan></text></g>
<g id="n123"><ellipse cx="4954" cy="916" rx="215" ry="78"/><text class="pre" xml:space="preserve" y="882"><tspan x="4954">123</tspan><tspan x="4954" dy="20.1">For</tspan><tspan x="4954" dy="20.1">for j in range(n - 1):</tspan><tspan x="4954" dy="20.1">    if A[j + 1] &lt; A[j]:</tspan><tspan x="4954" dy="20.1">        (A[j], A[j + 1]) = (A[j + 1], A[j])</tspan></text></g>
<g id="n124"><ellipse cx="4828" cy="1106" rx="46" ry="50"/><text y="1092"><tspan x="4828">124</tspan><tspan x="4828" dy="20.1">Name</tspan><tspan x="4828" dy="20.1">j</tspan></text></g>
<g id="n125"><ellipse cx="4846" cy="1269" rx="42" ry="36"/><text y="1265"><tspan x="4846">125</tspan><tspan x="4846" dy="20.1">Store</tspan></text></g>
<g id="n126"><ellipse cx="4975" cy="1106" rx="77" ry="50"/><text y="1092"><tspan x="4975">126</tspan><tspan x="4975" dy="20.1">Call</tspan><tspan x="4975" dy="20.1">range(n - 1)</tspan></text></g>
<g id="n127"><ellipse cx="4960" cy="1269" rx="46" ry="50"/><text y="1255"><tspan x="4960">127</tspan><tspan x="4960" dy="20.1">Name</tspan><tspan x="4960" dy="20.1">range</tspan></text></g>
<g id="n128"><ellipse cx="4742" cy="1417" rx="41" ry="36"/><text y="1413"><tspan x="4742">128</tspan><tspan x="4742" dy="20.1">Load</tspan></text></g>
<g id="n129"><ellipse cx="5084" cy="1269" rx="49" ry="50"/><text y="1255"><tspan x="5084">129</tspan><tspan x="5084" dy="20.1">BinOp</tspan><tspan x="5084" dy="20.1">n - 1</tspan></text></g>
<g id="n130"><ellipse cx="4854" cy="1417" rx="46" ry="50"/><text y="1403"><tspan x="4854">130</tspan><tspan x="4854" dy="20.1">Name</tspan><tspan x="4854" dy="20.1">n</tspan></text></g>
<g id="n131"><ellipse cx="4854" cy="1563" rx="41" ry="36"/><text y="1559"><tspan x="4854">131</tspan><tspan x="4854" dy="20.1">Load</tspan></text></g>
<g id="n132"><ellipse cx="4960" cy="1417" rx="34" ry="36"/><text y="1413"><tspan x="4960">132</tspan><tspan x="4960" dy="20.1">Sub</tspan></text></g>
<g id="n133"><ellipse cx="5081" cy="1417" rx="61" ry="50"/><text y="1403"><tspan x="5081">133</tspan><tspan x="5081" dy="20.1">Constant</tspan><tspan x="5081" dy="20.1">1</tspan></text></g>
<g id="n134"><ellipse cx="5278" cy="1106" rx="201" ry="64"/><text class="pre" xml:space="preserve" y="1082"><tspan x="5278">134</tspan><tspan x="5278" dy="20.1">If</tspan><tspan x="5278" dy="20.1">if A[j + 1] &lt; A[j]:</tspan><tspan x="5278" dy="20.1">    (A[j], A[j + 1]) = (A[j + 1], A[j])</tspan></text></g>
<g id="n135"><ellipse cx="5278" cy="1269" rx="93" ry="50"/><text y="1255"><tspan x="5278">135</tspan><tspan x="5278" dy="20.1">Compare</tspan><tspan x="5278" dy="20.1">A[j + 1] &lt; A[j]</tspan></text></g>
<g id="n136"><ellipse cx="5230" cy="1417" rx="64" ry="50"/><text y="1403"><tspan x="5230">136</tspan><tspan x="5230" dy="20.1">Subscript</tspan><tspan x="5230" dy="20.1">A[j + 1]</tspan></text></g>
<g id="n137"><ellipse cx="4980" cy="1563" rx="46" ry="50"/><text y="1549"><tspan x="4980">137</tspan><tspan x="4980" dy="20.1">Name</tspan><tspan x="4980" dy="20.1">A</tspan></text></g>
<g id="n138"><ellipse cx="4891" cy="1710" rx="41" ry="36"/><text y="1706"><tspan x="4891">138</tspan><tspan x="4891" dy="20.1">Load</tspan></text></g>
<g id="n139"><ellipse cx="5114" cy="1563" rx="49" ry="50"/><text y="1549"><tspan x="5114">139</tspan><tspan x="5114" dy="20.1">BinOp</tspan><tspan x="5114" dy="20.1">j + 1</tspan></text></g>
<g id="n140"><ellipse cx="5003" cy="1710" rx="46" ry="50"/><text y="1696"><tspan x="5003">140</tspan><tspan x="5003" dy="20.1">Name</tspan><tspan x="5003" dy="20.1">j</tspan></text></g>
<g id="n141"><ellipse cx="5003" cy="1859" rx="41" ry="36"/><text y="1855"><tspan x="5003">141</tspan><tspan x="5003" dy="20.1">Load</tspan></text></g>
<g id="n142"><ellipse cx="5113" cy="1710" rx="36" ry="36"/><text y="1706"><tspan x="5113">142</tspan><tspan x="5113" dy="20.1">Add</tspan></text></g>
<g id="n143"><ellipse cx="5235" cy="1710" rx="61" ry="50"/><text y="1696"><tspan x="5235">143</tspan><tspan x="5235" dy="20.1">Constant</tspan><tspan x="5235" dy="20.1">1</tspan></text></g>
<g id="n144"><ellipse cx="5230" cy="1563" rx="41" ry="36"/><text y="1559"><tspan x="5230">144</tspan><tspan x="5230" dy="20.1">Load</tspan></text></g>
<g id="n145"><ellipse cx="5355" cy="1417" rx="33" ry="36"/><text y="1413"><tspan x="5355">145</tspan><tspan x="5355" dy="20.1">Lt</tspan></text></g>
<g id="n146"><ellipse cx="5479" cy="1417" rx="64" ry="50"/><text y="1403"><tspan x="5479">146</tspan><tspan x="5479" dy="20.1">Subscript</tspan><tspan x="5479" dy="20.1">A[j]</tspan></text></g>
<g id="n147"><ellipse cx="5360" cy="1563" rx="46" ry="50"/><text y="1549"><tspan x="5360">147</tspan><tspan x="5360" dy="20.1">Name</tspan><tspan x="5360" dy="20.1">A</tspan></text></g>
<g id="n148"><ellipse cx="5361" cy="1710" rx="41" ry="36"/><text y="1706"><tspan x="5361">148</tspan><tspan x="5361" dy="20.1">Load</tspan></text></g>
<g id="n149"><ellipse cx="5479" cy="1563" rx="46" ry="50"/><text y="1549"><tspan x="5479">149</tspan><tspan x="5479" dy="20.1">Name</tspan><tspan x="5479" dy="20.1">j</tspan></text></g>
<g id="n150"><ellipse cx="5468" cy="1710" rx="41" ry="36"/><text y="1706"><tspan x="5468">150</tspan><tspan x="5468" dy="20.1">Load</tspan></text></g>
<g id="n151"><ellipse cx="5591" cy="1563" rx="41" ry="36"/><text y="1559"><tspan x="5591">151</tspan><tspan x="5591" dy="20.1">Load</tspan></text></g>
<g id="n152"><ellipse cx="5582" cy="1269" rx="188" ry="50"/><text y="1255"><tspan x="5582">152</tspan><tspan x="5582" dy="20.1">Assign</tspan><tspan x="5582" dy="20.1">(A[j], A[j + 1]) = (A[j + 1], A[j])</tspan></text></g>
<g id="n153"><ellipse cx="5850" cy="1417" rx="94" ry="50"/><text y="1403"><tspan x="5850">153</tspan><tspan x="5850" dy="20.1">Tuple</tspan><tspan x="5850" dy="20.1">(A[j], A[j + 1])</tspan></text></g>
<g id="n154"><ellipse cx="5747" cy="1563" rx="64" ry="50"/><text y="1549"><tspan x="5747">154</tspan><tspan x="5747" dy="20.1">Subscript</tspan><tspan x="5747" dy="20.1">A[j]</tspan></text></g>
<g id="n155"><ellipse cx="5580" cy="1710" rx="46" ry="50"/><text y="1696"><tspan x="5580">155</tspan><tspan x="5580" dy="20.1">Name</tspan><tspan x="5580" dy="20.1">A</tspan></text></g>
<g id="n156"><ellipse cx="5580" cy="1859" rx="41" ry="36"/><text y="1855"><tspan x="5580">156</tspan><tspan x="5580" dy="20.1">Load</tspan></text></g>
<g id="n157"><ellipse cx="5699" cy="1710" rx="46" ry="50"/><text y="1696"><tspan x="5699">157</tspan><tspan x="5699" dy="20.1">Name</tspan><tspan x="5699" dy="20.1">j</tspan></text></g>
<g id="n158"><ellipse cx="5699" cy="1859" rx="41" ry="36"/><text y="1855"><tspan x="5699">158</tspan><tspan x="5699" dy="20.1">Load</tspan></text></g>
<g id="n159"><ellipse cx="5813" cy="1710" rx="42" ry="36"/><text y="1706"><tspan x="5813">159</tspan><tspan x="5813" dy="20.1">Store</tspan></text></g>
<g id="n160"><ellipse cx="5927" cy="1563" rx="64" ry="50"/><text y="1549"><tspan x="5927">160</tspan><tspan x="5927" dy="20.1">Subscript</tspan><tspan x="5927" dy="20.1">A[j + 1]</tspan></text></g>
<g id="n161"><ellipse cx="5927" cy="1710" rx="46" ry="50"/><text y="1696"><tspan x="5927">161</tspan><tspan x="5927" dy="20.1">Name</tspan><tspan x="5927" dy="20.1">A</tspan></text></g>
<g id="n162"><ellipse cx="5826" cy="1859" rx="41" ry="36"/><text y="1855"><tspan x="5826">162</tspan><tspan x="5826" dy="20.1">Load</tspan></text></g>
<g id="n163"><ellipse cx="6048" cy="1710" rx="49" ry="50"/><text y="1696"><tspan x="6048">163</tspan><tspan x="6048" dy="20.1">BinOp</tspan><tspan x="6048" dy="20.1">j + 1</tspan></text></g>
<g id="n164"><ellipse cx="5937" cy="1859" rx="46" ry="50"/><text y="1845"><tspan x="5937">164</tspan><tspan x="5937" dy="20.1">Name</tspan><tspan x="5937" dy="20.1">j</tspan></text></g>
<g id="n165"><ellipse cx="5937" cy="1993" rx="41" ry="36"/><text y="1989"><tspan x="5937">165</tspan><tspan x="5937" dy="20.1">Load</tspan></text></g>
<g id="n166"><ellipse cx="6048" cy="1859" rx="36" ry="36"/><text y="1855"><tspan x="6048">166</tspan><tspan x="6048" dy="20.1">Add</tspan></text></g>
<g id="n167"><ellipse cx="6170" cy="1859" rx="61" ry="50"/><text y="1845"><tspan x="6170">167</tspan><tspan x="6170" dy="20.1">Constant</tspan><tspan x="6170" dy="20.1">1</tspan></text></g>
<g id="n168"><ellipse cx="6163" cy="1710" rx="42" ry="36"/><text y="1706"><tspan x="6163">168</tspan><tspan x="6163" dy="20.1">Store</tspan></text></g>
<g id="n169"><ellipse cx="6056" cy="1563" rx="42" ry="36"/><text y="1559"><tspan x="6056">169</tspan><tspan x="6056" dy="20.1">Store</tspan></text></g>
<g id="n170"><ellipse cx="6654" cy="1417" rx="94" ry="50"/><text y="1403"><tspan x="6654">170</tspan><tspan x="6654" dy="20.1">Tuple</tspan><tspan x="6654" dy="20.1">(A[j + 1], A[j])</tspan></text></g>
<g id="n171"><ellipse cx="6558" cy="1563" rx="64" ry="50"/><text y="1549"><tspan x="6558">171</tspan><tspan x="6558" dy="20.1">Subscript</tspan><tspan x="6558" dy="20.1">A[j + 1]</tspan></text></g>
<g id="n172"><ellipse cx="6346" cy="1710" rx="46" ry="50"/><text y="1696"><tspan x="6346">172</tspan><tspan x="6346" dy="20.1">Name</tspan><tspan x="6346" dy="20.1">A</tspan></text></g>
<g id="n173"><ellipse cx="6296" cy="1859" rx="41" ry="36"/><text y="1855"><tspan x="6296">173</tspan><tspan x="6296" dy="20.1">Load</tspan></text></g>
<g id="n174"><ellipse cx="6518" cy="1710" rx="49" ry="50"/><text y="1696"><tspan x="6518">174</tspan><tspan x="6518" dy="20.1">BinOp</tspan><tspan x="6518" dy="20.1">j + 1</tspan></text></g>
<g id="n175"><ellipse cx="6408" cy="1859" rx="46" ry="50"/><text y="1845"><tspan x="6408">175</tspan><tspan x="6408" dy="20.1">Name</tspan><tspan x="6408" dy="20.1">j</tspan></text></g>
<g id="n176"><ellipse cx="6408" cy="1993" rx="41" ry="36"/><text y="1989"><tspan x="6408">176</tspan><tspan x="6408" dy="20.1">Load</tspan></text></g>
<g id="n177"><ellipse cx="6518" cy="1859" rx="36" ry="36"/><text y="1855"><tspan x="6518">177</tspan><tspan x="6518" dy="20.1">Add</tspan></text></g>
<g id="n178"><ellipse cx="6640" cy="1859" rx="61" ry="50"/><text y="1845"><tspan x="6640">178</tspan><tspan x="6640" dy="20.1">Constant</tspan><tspan x="6640" dy="20.1">1</tspan></text></g>
<g id="n179"><ellipse cx="6634" cy="1710" rx="41" ry="36"/><text y="1706"><tspan x="6634">179</tspan><tspan x="6634" dy="20.1">Load</tspan></text></g>
<g id="n180"><ellipse cx="6749" cy="1563" rx="64" ry="50"/><text y="1549"><tspan x="6749">180</tspan><tspan x="6749" dy="20.1">Subscript</tspan><tspan x="6749" dy="20.1">A[j]</tspan></text></g>
<g id="n181"><ellipse cx="6749" cy="1710" rx="46" ry="50"/><text y="1696"><tspan x="6749">181</tspan><tspan x="6749" dy="20.1">Name</tspan><tspan x="6749" dy="20.1">A</tspan></text></g>
<g id="n182"><ellipse cx="6766" cy="1859" rx="41" ry="36"/><text y="1855"><tspan x="6766">182</tspan><tspan x="6766" dy="20.1">Load</tspan></text></g>
<g id="n183"><ellipse cx="6868" cy="1710" rx="46" ry="50"/><text y="1696"><tspan x="6868">183</tspan><tspan x="6868" dy="20.1">Name</tspan><tspan x="6868" dy="20.1">j</tspan></text></g>
<g id="n184"><ellipse cx="6873" cy="1859" rx="41" ry="36"/><text y="1855"><tspan x="6873">184</tspan><tspan x="6873" dy="20.1">Load</tspan></text></g>
<g id="n185"><ellipse cx="6980" cy="1710" rx="41" ry="36"/><text y="1706"><tspan x="6980">185</tspan><tspan x="6980" dy="20.1">Load</tspan></text></g>
<g id="n186"><ellipse cx="6879" cy="1563" rx="41" ry="36"/><text y="1559"><tspan x="6879">186</tspan><tspan x="6879" dy="20.1">Load</tspan></text></g>
<g id="n187"><ellipse cx="5167" cy="697" rx="57" ry="50"/><text y="683"><tspan x="5167">187</tspan><tspan x="5167" dy="20.1">Expr</tspan><tspan x="5167" dy="20.1">print(A)</tspan></text></g>
<g id="n188"><ellipse cx="5552" cy="916" rx="57" ry="50"/><text y="902"><tspan x="5552">188</tspan><tspan x="5552" dy="20.1">Call</tspan><tspan x="5552" dy="20.1">print(A)</tspan></text></g>
<g id="n189"><ellipse cx="5552" cy="1106" rx="46" ry="50"/><text y="1092"><tspan x="5552">189</tspan><tspan x="5552" dy="20.1">Name</tspan><tspan x="5552" dy="20.1">print</tspan></text></g>
<g id="n190"><ellipse cx="5836" cy="1269" rx="41" ry="36"/><text y="1265"><tspan x="5836">190</tspan><tspan x="5836" dy="20.1">Load</tspan></text></g>
<g id="n191"><ellipse cx="5667" cy="1106" rx="46" ry="50"/><text y="1092"><tspan x="5667">191</tspan><tspan x="5667" dy="20.1">Name</tspan><tspan x="5667" dy="20.1">A</tspan></text></g>
<g id="n192"><ellipse cx="5942" cy="1269" rx="41" ry="36"/><text y="1265"><tspan x="5942">192</tspan><tspan x="5942" dy="20.1">Load</tspan></text></g>
<g id="n193"><ellipse cx="5784" cy="697" rx="134" ry="50"/><text y="683"><tspan x="5784">193</tspan><tspan x="5784" dy="20.1">Assign</tspan><tspan x="5784" dy="20.1">A = [3, 5, 1, 9, 7, 8, 5]</tspan></text></g>
<g id="n194"><ellipse cx="5784" cy="916" rx="46" ry="50"/><text y="902"><tspan x="5784">194</tspan><tspan x="5784" dy="20.1">Name</tspan><tspan x="5784" dy="20.1">A</tspan></text></g>
<g id="n195"><ellipse cx="5784" cy="1106" rx="42" ry="36"/><text y="1102"><tspan x="5784">195</tspan><tspan x="5784" dy="20.1">Store</tspan></text></g>
<g id="n196"><ellipse cx="6351" cy="916" rx="110" ry="50"/><text y="902"><tspan x="6351">196</tspan><tspan x="6351" dy="20.1">List</tspan><tspan x="6351" dy="20.1">[3, 5, 1, 9, 7, 8, 5]</tspan></text></g>
<g id="n197"><ellipse cx="5912" cy="1106" rx="61" ry="50"/><text y="1092"><tspan x="5912">197</tspan><tspan x="5912" dy="20.1">Constant</tspan><tspan x="5912" dy="20.1">3</tspan></text></g>
<g id="n198"><ellipse cx="6058" cy="1106" rx="61" ry="50"/><text y="1092"><tspan x="6058">198</tspan><tspan x="6058" dy="20.1">Constant</tspan><tspan x="6058" dy="20.1">5</tspan></text></g>
<g id="n199"><ellipse cx="6204" cy="1106" rx="61" ry="50"/><text y="1092"><tspan x="6204">199</tspan><tspan x="6204" dy="20.1">Constant</tspan><tspan x="6204" dy="20.1">1</tspan></text></g>
<g id="n200"><ellipse cx="6351" cy="1106" rx="61" ry="50"/><text y="1092"><tspan x="6351">200</tspan><tspan x="6351" dy="20.1">Constant</tspan><tspan x="6351" dy="20.1">9</tspan></text></g>
<g id="n201"><ellipse cx="6497" cy="1106" rx="61" ry="50"/><text y="1092"><tspan x="6497">201</tspan><tspan x="6497" dy="20.1">Constant</tspan><tspan x="6497" dy="20.1">7</tspan></text></g>
<g id="n202"><ellipse cx="6644" cy="1106" rx="61" ry="50"/><text y="1092"><tspan x="6644">202</tspan><tspan x="6644" dy="20.1">Constant</tspan><tspan x="6644" dy="20.1">8</tspan></text></g>
<g id="n203"><ellipse cx="6791" cy="1106" rx="61" ry="50"/><text y="1092"><tspan x="6791">203</tspan><tspan x="6791" dy="20.1">Constant</tspan><tspan x="6791" dy="20.1">5</tspan></text></g>
<g id="n204"><ellipse cx="6917" cy="1106" rx="41" ry="36"/><text y="1102"><tspan x="6917">204</tspan><tspan x="6917" dy="20.1">Load</tspan></text></g>
<g id="n205"><ellipse cx="6517" cy="697" rx="55" ry="50"/><text y="683"><tspan x="6517">205</tspan><tspan x="6517" dy="20.1">Expr</tspan><tspan x="6517" dy="20.1">A.sort()</tspan></text></g>
<g id="n206"><ellipse cx="6791" cy="916" rx="55" ry="50"/><text y="902"><tspan x="6791">206</tspan><tspan x="6791" dy="20.1">Call</tspan><tspan x="6791" dy="20.1">A.sort()</tspan></text></g>
<g id="n207"><ellipse cx="7045" cy="1106" rx="62" ry="50"/><text y="1092"><tspan x="7045">207</tspan><tspan x="7045" dy="20.1">Attribute</tspan><tspan x="7045" dy="20.1">A.sort</tspan></text></g>
<g id="n208"><ellipse cx="6946" cy="1269" rx="46" ry="50"/><text y="1255"><tspan x="6946">208</tspan><tspan x="6946" dy="20.1">Name</tspan><tspan x="6946" dy="20.1">A</tspan></text></g>
<g id="n209"><ellipse cx="6946" cy="1417" rx="41" ry="36"/><text y="1413"><tspan x="6946">209</tspan><tspan x="6946" dy="20.1">Load</tspan></text></g>
<g id="n210"><ellipse cx="7057" cy="1269" rx="41" ry="36"/><text y="1265"><tspan x="7057">210</tspan><tspan x="7057" dy="20.1">Load</tspan></text></g>
<g id="n211"><ellipse cx="6914" cy="697" rx="57" ry="50"/><text y="683"><tspan x="6914">211</tspan><tspan x="6914" dy="20.1">Expr</tspan><tspan x="6914" dy="20.1">print(A)</tspan></text></g>
<g id="n212"><ellipse cx="7176" cy="916" rx="57" ry="50"/><text y="902"><tspan x="7176">212</tspan><tspan x="7176" dy="20.1">Call</tspan><tspan x="7176" dy="20.1">print(A)</tspan></text></g>
<g id="n213"><ellipse cx="7176" cy="1106" rx="46" ry="50"/><text y="1092"><tspan x="7176">213</tspan><tspan x="7176" dy="20.1">Name</tspan><tspan x="7176" dy="20.1">print</tspan></text></g>
<g id="n214"><ellipse cx="7176" cy="1269" rx="41" ry="36"/><text y="1265"><tspan x="7176">214</tspan><tspan x="7176" dy="20.1">Load</tspan></text></g>
<g id="n215"><ellipse cx="7295" cy="1106" rx="46" ry="50"/><text y="1092"><tspan x="7295">215</tspan><tspan x="7295" dy="20.1">Name</tspan><tspan x="7295" dy="20.1">A</tspan></text></g>
<g id="n216"><ellipse cx="7295" cy="1269" rx="41" ry="36"/><text y="1265"><tspan x="7295">216</tspan><tspan x="7295" dy="20.1">Load</tspan></text></g>
</g>
</svg>
